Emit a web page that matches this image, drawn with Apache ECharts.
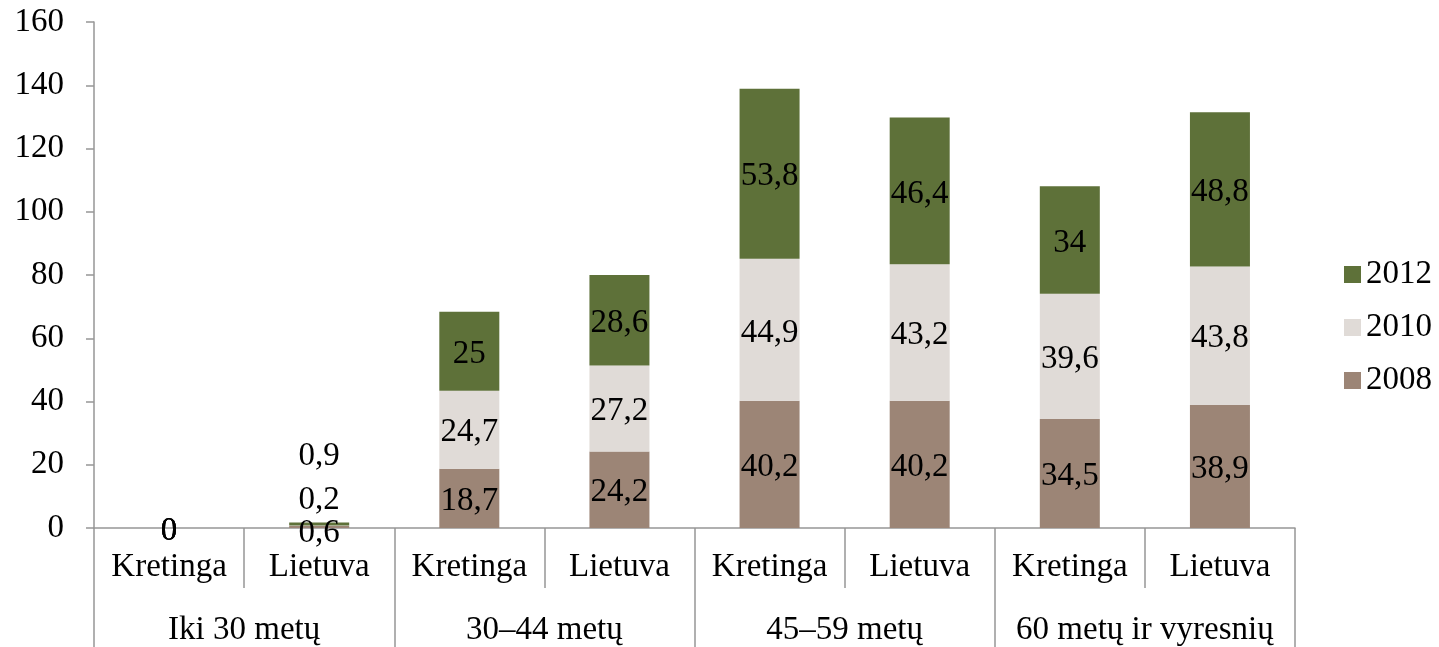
<!DOCTYPE html>
<html>
<head>
<meta charset="utf-8">
<script src="https://cdn.jsdelivr.net/npm/echarts@6/dist/echarts.min.js"></script>
<style>
  html, body { margin: 0; padding: 0; background: #fff; }
  #chart { width: 1439px; height: 647px; }
</style>
</head>
<body>
<div id="chart"></div>
<script>
// categorijos: miestas / amžiaus grupė
const places = ['Kretinga', 'Lietuva', 'Kretinga', 'Lietuva', 'Kretinga', 'Lietuva', 'Kretinga', 'Lietuva']
const ageGroups = ['Iki 30 metų', '30–44 metų', '45–59 metų', '60 metų ir vyresnių']
const v2008 = [0, 0.6, 18.7, 24.2, 40.2, 40.2, 34.5, 38.9]
const v2010 = [0, 0.2, 24.7, 27.2, 44.9, 43.2, 39.6, 43.8]
const v2012 = [0, 0.9, 25, 28.6, 53.8, 46.4, 34, 48.8]
const yTicks = [0, 20, 40, 60, 80, 100, 120, 140, 160]

const FONT = 'Liberation Serif'
const AXIS_COLOR = '#969696'
const fmt = p => String(p.value).replace('.', ',')

// mažos reikšmės – etiketės pakeltos kaip originale
function withOffsets (values, offsets) {
  return values.map((v, i) => offsets[i] ? { value: v, label: { offset: [0, offsets[i]] } } : v)
}

function makeSeries (name, values, color, offsets) {
  return {
    name: name,
    type: 'bar',
    stack: 'total',
    barWidth: 60,
    xAxisIndex: 0,
    data: withOffsets(values, offsets || {}),
    itemStyle: { color: color },
    label: {
      show: true,
      position: 'inside',
      offset: [0, 3],
      formatter: fmt,
      color: '#000',
      fontFamily: FONT,
      fontSize: 33
    }
  }
}

const chart = echarts.init(document.getElementById('chart'))
chart.setOption({
  animation: false,
  textStyle: { fontFamily: FONT },
  grid: { left: 94, right: 144, top: 22, bottom: 119 },
  legend: {
    orient: 'vertical',
    left: 1339,
    top: 253,
    itemWidth: 17,
    itemHeight: 17,
    itemGap: 20,
    icon: 'rect',
    data: ['2012', '2010', '2008'],
    textStyle: { fontFamily: FONT, fontSize: 33, color: '#000', padding: [0, 0, 0, 0] }
  },
  xAxis: [
    {
      type: 'category',
      data: places,
      axisLine: { show: true, lineStyle: { color: AXIS_COLOR, width: 1.5 } },
      axisTick: { show: true, interval: 0, length: 60, lineStyle: { color: AXIS_COLOR, width: 1.5 } },
      axisLabel: { interval: 0, margin: 23, color: '#000', fontFamily: FONT, fontSize: 33 }
    },
    {
      type: 'category',
      data: ageGroups,
      position: 'bottom',
      axisLine: { show: false },
      axisTick: { show: true, interval: 0, length: 119, lineStyle: { color: AXIS_COLOR, width: 1.5 } },
      axisLabel: { interval: 0, margin: 86, color: '#000', fontFamily: FONT, fontSize: 33 }
    }
  ],
  yAxis: {
    type: 'value',
    min: yTicks[0],
    max: yTicks[yTicks.length - 1],
    interval: 20,
    splitLine: { show: false },
    axisLine: { show: true, lineStyle: { color: AXIS_COLOR, width: 1.5 } },
    axisTick: { show: true, length: 8, lineStyle: { color: AXIS_COLOR, width: 1.5 } },
    axisLabel: { margin: 30, color: '#000', fontFamily: FONT, fontSize: 33 }
  },
  series: [
    makeSeries('2008', v2008, '#9c8576', { 1: 6 }),
    makeSeries('2010', v2010, '#e0dbd7', { 1: -25 }),
    makeSeries('2012', v2012, '#5e7139', { 1: -68 })
  ]
})
</script>
</body>
</html>
